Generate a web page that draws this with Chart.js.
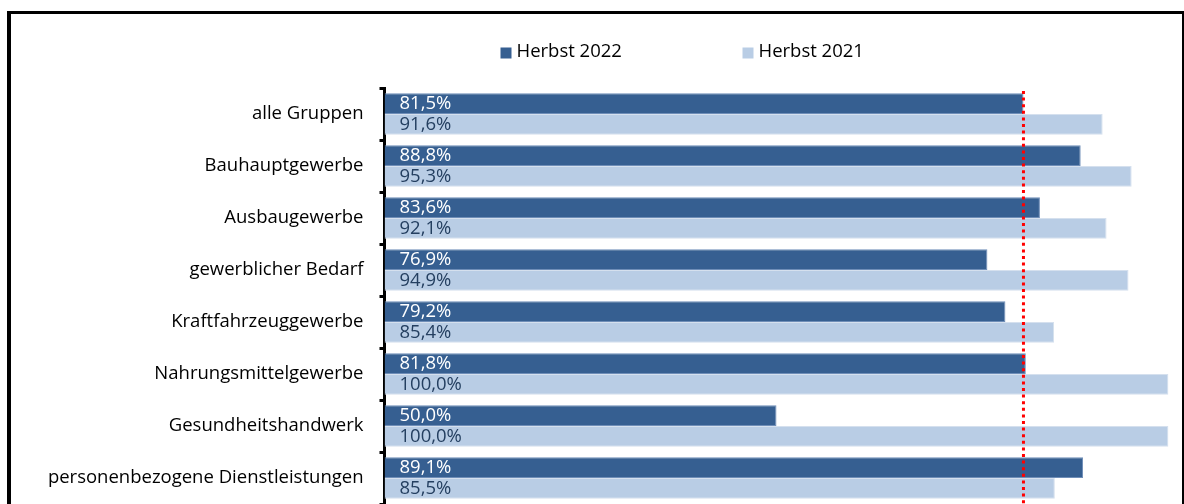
<!DOCTYPE html>
<html><head><meta charset="utf-8">
<script src="https://cdn.jsdelivr.net/npm/chart.js@4.4.0/dist/chart.umd.min.js"></script>
<style>
html,body{margin:0;padding:0;background:#fff;overflow:hidden;width:1184px;height:504px;}
#frame{position:absolute;left:7px;top:11px;width:1177px;height:600px;box-sizing:border-box;border-left:4px solid #000;border-top:3px solid #000;border-right:2px solid #000;}
#wrap{position:absolute;left:0;top:0;width:1184px;height:504px;}
</style></head><body>
<div id="frame"></div>
<div id="wrap"><canvas id="c" width="1184" height="504"></canvas></div>
<script>
const categories = ['alle Gruppen','Bauhauptgewerbe','Ausbaugewerbe','gewerblicher Bedarf','Kraftfahrzeuggewerbe','Nahrungsmittelgewerbe','Gesundheitshandwerk','personenbezogene Dienstleistungen'];
const herbst2022 = [81.5, 88.8, 83.6, 76.9, 79.2, 81.8, 50.0, 89.1];
const herbst2021 = [91.6, 95.3, 92.1, 94.9, 85.4, 100.0, 100.0, 85.5];
const seriesLabels = ['Herbst 2022', 'Herbst 2021'];
const seriesColors = ['#365F91', '#B9CDE5'];
const labelColors = ['#FFFFFF', '#243F60'];
const referenceValue = herbst2022[0];

const FONT = '"Open Sans"';
const FS = 18.5;

const fmt = v => v.toFixed(1).replace('.', ',') + '%';

const legendPlugin = {
  id: 'customLegend',
  afterDraw(chart) {
    const ctx = chart.ctx;
    const xs = [500.5, 742.5];
    ctx.save();
    ctx.font = FS + 'px ' + FONT;
    ctx.textBaseline = 'middle';
    ctx.textAlign = 'left';
    chart.data.datasets.forEach((ds, i) => {
      ctx.fillStyle = ds.backgroundColor;
      ctx.fillRect(xs[i], 47.5, 11, 11);
      ctx.fillStyle = '#000';
      ctx.fillText(ds.label, xs[i] + 16, 51.5);
    });
    ctx.restore();
  }
};

const refLinePlugin = {
  id: 'refLine',
  afterDatasetsDraw(chart) {
    const ctx = chart.ctx;
    const x = chart.scales.x.getPixelForValue(referenceValue);
    ctx.save();
    ctx.strokeStyle = '#FF0000';
    ctx.lineWidth = 3;
    ctx.setLineDash([3, 3.6]);
    ctx.beginPath();
    ctx.moveTo(x, chart.chartArea.top + 3);
    ctx.lineTo(x, chart.chartArea.bottom + 10);
    ctx.stroke();
    ctx.restore();
  }
};

const dataLabelPlugin = {
  id: 'dataLabels',
  afterDatasetsDraw(chart) {
    const ctx = chart.ctx;
    ctx.save();
    ctx.font = FS + 'px ' + FONT;
    ctx.textBaseline = 'middle';
    ctx.textAlign = 'left';
    chart.data.datasets.forEach((ds, di) => {
      const meta = chart.getDatasetMeta(di);
      ctx.fillStyle = labelColors[di];
      meta.data.forEach((bar, i) => {
        ctx.fillText(fmt(ds.data[i]), bar.base + 15, bar.y + 0.5);
      });
    });
    ctx.restore();
  }
};

new Chart(document.getElementById('c'), {
  type: 'bar',
  data: {
    labels: categories,
    datasets: [
      { label: seriesLabels[0], data: herbst2022, backgroundColor: seriesColors[0], borderColor: '#6F8EB8', borderWidth: 1, categoryPercentage: 0.8, barPercentage: 1.0 },
      { label: seriesLabels[1], data: herbst2021, backgroundColor: seriesColors[1], borderColor: '#D5E0EE', borderWidth: 1, categoryPercentage: 0.8, barPercentage: 1.0 }
    ]
  },
  options: {
    indexAxis: 'y',
    responsive: false,
    animation: false,
    layout: { padding: { top: 88, right: 15.5, bottom: 0, left: 0 } },
    plugins: { legend: { display: false }, tooltip: { enabled: false } },
    scales: {
      x: { display: false, min: 0, max: 100 },
      y: {
        offset: true,
        grid: { display: true, drawOnChartArea: false, drawTicks: true, tickLength: 5, color: '#000', lineWidth: 3, offset: true },
        border: { display: true, color: '#000', width: 3 },
        ticks: { color: '#000', font: { family: 'Open Sans', size: FS }, padding: 16 },
        afterFit(scale) { scale.width = 384.5; scale.paddingTop = 0; scale.paddingBottom = 0; }
      }
    }
  },
  plugins: [legendPlugin, refLinePlugin, dataLabelPlugin]
});
</script>
</body></html>
